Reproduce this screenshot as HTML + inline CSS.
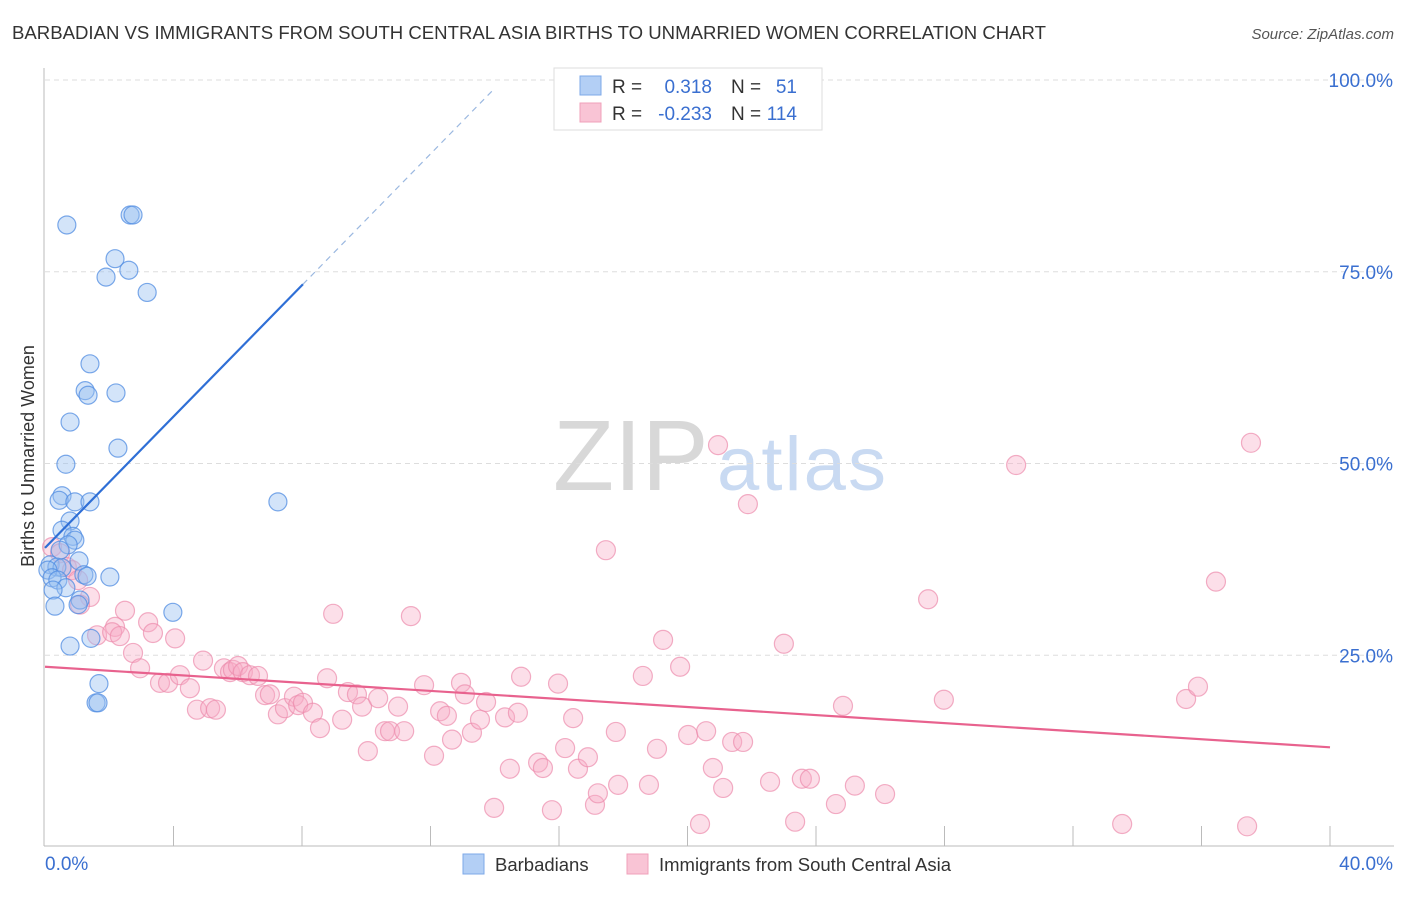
<!DOCTYPE html>
<html><head><meta charset="utf-8"><style>
body{margin:0;background:#fff;font-family:"Liberation Sans",sans-serif}
svg text{font-family:"Liberation Sans",sans-serif}
</style></head><body>
<svg width="1406" height="892" viewBox="0 0 1406 892">
<text x="12" y="39" font-size="18" textLength="1034" lengthAdjust="spacingAndGlyphs" fill="#333">BARBADIAN VS IMMIGRANTS FROM SOUTH CENTRAL ASIA BIRTHS TO UNMARRIED WOMEN CORRELATION CHART</text>
<text x="1394" y="39" font-size="15" fill="#555" font-style="italic" text-anchor="end">Source: ZipAtlas.com</text>
<g>
<text x="553" y="490" font-size="100" fill="#d8d8d8" font-family="Liberation Serif">ZIP</text>
<text x="717" y="490" font-size="76" textLength="169" fill="#c9daf2">atlas</text>
</g>
<g id="grid"></g>
<g id="axes"></g>
<g id="marks"></g>
<text x="34" y="456" font-size="18" fill="#333" text-anchor="middle" transform="rotate(-90 34 456)">Births to Unmarried Women</text>
<g>
<rect x="554" y="68" width="268" height="62" fill="#fff" stroke="#ddd"/>
<rect x="580" y="76" width="21" height="19" fill="#b3cff5" stroke="#7ea8e8"/>
<rect x="580" y="103" width="21" height="19" fill="#f9c4d5" stroke="#f0a0ba"/>
<text x="612" y="93" font-size="19" fill="#333">R =</text>
<text x="712" y="93" font-size="19" fill="#3a6fd0" text-anchor="end">0.318</text>
<text x="731" y="93" font-size="19" fill="#333">N =</text>
<text x="797" y="93" font-size="19" fill="#3a6fd0" text-anchor="end">51</text>
<text x="612" y="120" font-size="19" fill="#333">R =</text>
<text x="712" y="120" font-size="19" fill="#3a6fd0" text-anchor="end">-0.233</text>
<text x="731" y="120" font-size="19" fill="#333">N =</text>
<text x="797" y="120" font-size="19" fill="#3a6fd0" text-anchor="end">114</text>
</g>
<g>
<rect x="463" y="854" width="21" height="20" fill="#b3cff5" stroke="#7ea8e8"/>
<text x="495" y="871" font-size="18.5" fill="#333">Barbadians</text>
<rect x="627" y="854" width="21" height="20" fill="#f9c4d5" stroke="#f0a0ba"/>
<text x="659" y="871" font-size="18.5" fill="#333">Immigrants from South Central Asia</text>
</g>
</svg>
<script>
const yTicks=[25,50,75,100];
const yTickLabels=["25.0%","50.0%","75.0%","100.0%"];
const xTickCount=10;
const blueX=[0.68,2.65,2.74,2.18,2.61,1.90,3.18,1.40,1.25,1.34,2.21,0.78,0.65,2.27,0.53,0.44,0.93,1.40,7.25,0.78,0.53,0.87,0.93,0.72,0.47,1.06,0.16,0.37,0.53,0.09,1.21,1.31,2.02,0.22,0.40,0.65,0.25,1.09,1.03,0.31,3.98,0.78,1.43,1.68,1.59,1.65];
const blueY=[81.1,82.4,82.4,76.7,75.2,74.3,72.3,63.0,59.5,58.9,59.2,55.4,49.9,52.0,45.8,45.2,45.0,45.0,45.0,42.5,41.3,40.5,40.0,39.4,38.7,37.3,36.8,36.5,36.4,36.1,35.5,35.3,35.2,35.1,34.8,33.8,33.5,32.2,31.6,31.4,30.6,26.2,27.2,21.3,18.8,18.8];
const pinkX=[0.22,0.47,0.68,0.84,1.03,1.40,1.09,1.62,2.49,2.18,2.09,2.33,2.74,2.96,3.21,3.36,4.05,3.58,3.83,4.20,4.51,4.73,4.92,5.14,5.32,5.57,5.76,5.85,6.01,6.16,6.38,6.63,6.85,7.00,7.25,7.47,7.75,7.88,8.03,8.34,8.56,8.78,8.97,9.25,9.43,9.71,9.87,10.05,10.37,10.58,10.74,10.99,11.18,11.39,11.80,12.11,12.30,12.51,12.67,12.95,13.07,13.29,13.54,13.73,13.98,14.32,14.47,14.72,14.82,15.35,15.50,15.78,15.97,16.19,16.44,16.59,16.90,17.12,17.21,17.46,17.77,17.84,18.61,18.80,19.05,19.24,19.77,20.02,20.39,20.58,20.79,20.95,21.11,21.39,21.73,21.88,22.57,23.00,23.35,23.56,23.81,24.62,24.84,25.21,26.15,27.49,27.98,30.23,33.53,35.52,35.89,36.45,37.42,37.54];
const pinkY=[39.1,38.3,36.5,36.1,34.8,32.6,31.6,27.6,30.8,28.7,28.0,27.5,25.3,23.3,29.3,27.9,27.2,21.4,21.4,22.4,20.7,17.9,24.3,18.1,17.9,23.3,22.8,23.1,23.6,22.8,22.4,22.3,19.8,19.9,17.3,18.1,19.6,18.5,18.8,17.5,15.5,22.0,30.4,16.6,20.2,19.9,18.3,12.5,19.4,15.1,15.1,18.3,15.1,30.1,21.1,11.9,17.7,17.1,14.0,21.4,19.9,14.9,16.6,18.9,5.1,16.9,10.2,17.5,22.2,11.0,10.3,4.8,21.3,12.9,16.8,10.2,11.7,5.5,7.0,38.7,15.0,8.1,22.3,8.1,12.8,27.0,23.5,14.6,3.0,15.1,10.3,52.4,7.7,13.7,13.7,44.7,8.5,26.5,3.3,8.9,8.9,5.6,18.4,8.0,6.9,32.3,19.2,49.8,3.0,19.3,20.9,34.6,2.7,52.7];
const blueFit=[39.0,4.28];
const pinkFit=[23.5,-0.2625];
const X0=45,X1=1330,Y0=847,Y100=80;
const sx=v=>X0+(X1-X0)*v/40;
const sy=v=>Y0-(Y0-Y100)*v/100;
const NS="http://www.w3.org/2000/svg";
function mk(tag,attrs,parent){const e=document.createElementNS(NS,tag);for(const k in attrs)e.setAttribute(k,attrs[k]);document.getElementById(parent).appendChild(e);return e;}
yTicks.forEach((t,i)=>{
 const g=mk('line',{x1:45,x2:1394,y1:sy(t),y2:sy(t),stroke:'#ddd','stroke-dasharray':'5,4'},'grid');
 
 
 const l=mk('text',{x:1393,y:sy(t)+7,'font-size':19,fill:'#3a6fd0','text-anchor':'end'},'axes');
 l.textContent=yTickLabels[i];
 
 
});
const ya=mk('line',{x1:44,x2:44,y1:68,y2:846,stroke:'#bbb'},'axes');


const xa=mk('line',{x1:44,x2:1394,y1:846,y2:846,stroke:'#bbb'},'axes');


for(let i=1;i<=xTickCount;i++){
 const t=mk('line',{x1:sx(i*4),x2:sx(i*4),y1:826,y2:846,stroke:'#bbb'},'axes');
 
 
}
const xl0=mk('text',{x:45,y:870,'font-size':19,fill:'#3a6fd0'},'axes');xl0.textContent='0.0%';


const xl1=mk('text',{x:1393,y:870,'font-size':19,fill:'#3a6fd0','text-anchor':'end'},'axes');xl1.textContent='40.0%';


pinkX.forEach((x,i)=>{
 const c=mk('circle',{cx:sx(x),cy:sy(pinkY[i]),r:9.5,fill:'rgba(246,170,196,0.38)',stroke:'rgba(236,140,172,0.7)','stroke-width':1.2},'marks');
 
 
});
blueX.forEach((x,i)=>{
 const c=mk('circle',{cx:sx(x),cy:sy(blueY[i]),r:9,fill:'rgba(150,190,240,0.42)',stroke:'rgba(80,140,225,0.75)','stroke-width':1.2},'marks');
 
 
});
const bs=mk('line',{x1:sx(0),y1:sy(blueFit[0]),x2:sx(8.03),y2:sy(blueFit[0]+blueFit[1]*8.03),stroke:'#2f6fd6','stroke-width':2.2},'marks');


const bd=mk('line',{x1:sx(8.03),y1:sy(blueFit[0]+blueFit[1]*8.03),x2:sx(14.0),y2:sy(blueFit[0]+blueFit[1]*14.0),stroke:'#9bb8e0','stroke-width':1.2,'stroke-dasharray':'6,5'},'marks');


const pl=mk('line',{x1:sx(0),y1:sy(pinkFit[0]),x2:sx(40),y2:sy(pinkFit[0]+pinkFit[1]*40),stroke:'#e8628e','stroke-width':2.2},'marks');


</script>
</body></html>
